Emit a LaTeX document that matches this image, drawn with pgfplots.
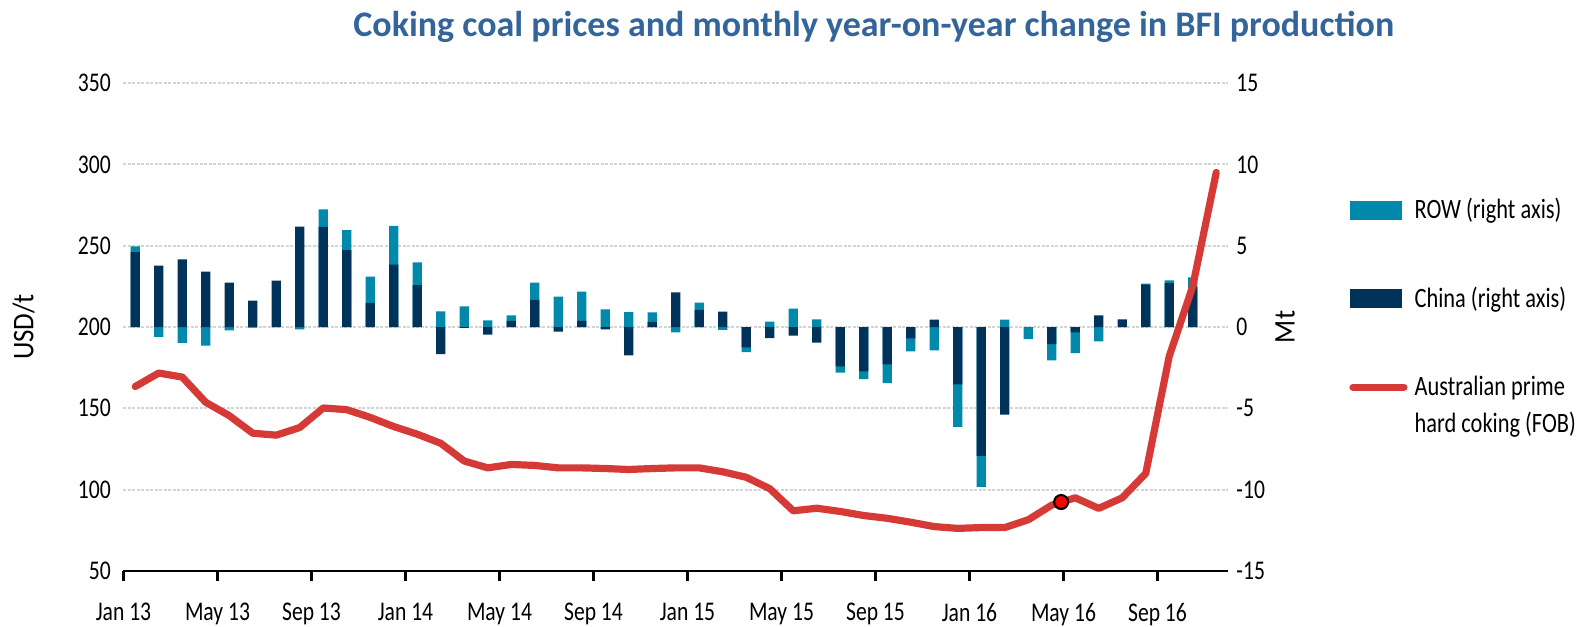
\documentclass[border=0pt]{standalone}
\usepackage{pgfplots}
\pgfplotsset{compat=1.18}
\usepackage{pgfplotstable}
\usepackage{fontspec}
\setmainfont{Carlito}
\newfontfamily\lblfont[FakeStretch=0.8]{Carlito}
\newfontfamily\legfont[FakeStretch=0.8]{Carlito}
\newfontfamily\axfont[FakeStretch=0.9]{Carlito}
\definecolor{rowc}{HTML}{0089AB}
\definecolor{chinac}{HTML}{003359}
\definecolor{linec}{HTML}{D63A37}
\definecolor{titlec}{HTML}{34659A}
\definecolor{gridc}{HTML}{D4D4D4}

\pgfplotstableread{
idx China ROW
0 4.61 0.35
1 3.77 -0.61
2 4.16 -0.98
3 3.40 -1.15
4 2.73 -0.20
5 1.62 -0.04
6 2.85 0.00
7 6.17 -0.14
8 6.15 1.08
9 4.73 1.23
10 1.48 1.62
11 3.83 2.38
12 2.58 1.40
13 -1.66 0.96
14 -0.06 1.27
15 -0.47 0.41
16 0.37 0.35
17 1.66 1.07
18 -0.29 1.86
19 0.37 1.80
20 -0.14 1.09
21 -1.74 0.92
22 0.31 0.59
23 2.13 -0.33
24 1.05 0.45
25 0.94 -0.18
26 -1.25 -0.29
27 -0.68 0.33
28 -0.53 1.13
29 -0.96 0.47
30 -2.42 -0.39
31 -2.73 -0.47
32 -2.30 -1.15
33 -0.70 -0.80
34 0.45 -1.43
35 -3.52 -2.62
36 -7.93 -1.90
37 -5.39 0.45
38 0.00 -0.74
39 -1.05 -1.00
40 -0.33 -1.27
41 0.72 -0.88
42 0.47 0.00
43 2.60 0.06
44 2.70 0.17
45 2.45 0.60
}\bars

\pgfplotstableread{
idx price
0 163.4
1 171.7
2 169.2
3 153.7
4 145.5
5 134.7
6 133.5
7 138.2
8 150.2
9 149.2
10 144.4
11 138.8
12 134.1
13 128.5
14 117.6
15 113.4
16 115.5
17 114.9
18 113.4
19 113.4
20 113.0
21 112.4
22 113.0
23 113.4
24 113.4
25 111.0
26 107.6
27 100.6
28 87.0
29 88.6
30 86.6
31 84.1
32 82.4
33 80.0
34 77.3
35 76.2
36 76.7
37 76.7
38 81.5
39 90.5
40 95.0
41 88.5
42 95.0
43 110.0
44 182.0
45 225.0
46 295.0
}\price

\begin{document}
\begin{tikzpicture}
\path[use as bounding box] (-61.75pt,-28pt) rectangle +(793.5pt,313.5pt);
\pgfplotsset{
  common/.style={at={(0pt,0pt)}, anchor=south west,
    scale only axis, width=552.25pt, height=244pt, xmin=-0.5, xmax=46.5,
    ticklabel style={font=\lblfont\fontsize{13.5}{15}\selectfont},
    /pgf/number format/assume math mode=true},
}
\begin{axis}[common, name=ax,
  ymin=-15, ymax=15,
  axis x line*=bottom, axis y line*=right,
  y axis line style={draw=none},
  x axis line style={-, line width=1.2pt},
  xtick={-0.5,3.5,...,43.5},
  xticklabels={Jan 13,May 13,Sep 13,Jan 14,May 14,Sep 14,Jan 15,May 15,Sep 15,Jan 16,May 16,Sep 16},
  xticklabel style={anchor=north, yshift=-7.5pt},
  tick align=outside, major tick length=5pt,
  xtick style={line width=1.2pt, black},
  ytick={-15,-10,-5,0,5,10,15},
  yticklabels={-15,-10,-5,0,5,10,15},
  ytick style={draw=none},
  yticklabel style={anchor=west, xshift=-4.3pt},
  ymajorgrids, grid style={gridc, line width=0.9pt, dash pattern=on 1.5pt off 0.75pt},
  ylabel={Mt},
  ylabel style={at={(axis description cs:1,0.5)}, anchor=center, yshift=-28.5pt, font=\axfont\fontsize{15}{18}\selectfont},
  title={Coking coal prices and monthly year-on-year change in BFI production},
  title style={at={(axis description cs:0.5,1)}, anchor=base, xshift=99pt, yshift=17.5pt, font=\bfseries\fontsize{18}{22}\selectfont, text=titlec},
]
\addplot[ybar, bar width=0.4, bar shift=0pt, fill=rowc, draw=none]
  table[x=idx, y expr={(\thisrow{China}*\thisrow{ROW}>0) ? (\thisrow{China}+\thisrow{ROW}) : \thisrow{ROW}}] {\bars};
\addplot[ybar, bar width=0.4, bar shift=0pt, fill=chinac, draw=none]
  table[x=idx, y=China] {\bars};
\end{axis}
\begin{axis}[common,
  ymin=50, ymax=350,
  axis x line=none, axis y line*=left,
  y axis line style={draw=none},
  ytick={50,100,...,350},
  ytick style={draw=none}, major tick length=0pt,
  yticklabel style={anchor=east, xshift=-2.8pt},
  ylabel={USD/t},
  ylabel style={at={(axis description cs:0,0.5)}, anchor=center, yshift=50pt, font=\axfont\fontsize{15}{18}\selectfont},
  legend style={at={(1,1)}, anchor=north west, xshift=60.5pt, yshift=-56.4pt, draw=none, fill=none,
    inner sep=0pt, font=\legfont\fontsize{14}{18.5}\selectfont, row sep=30.7pt, column sep=2.5pt,
    nodes={inner sep=1pt}},
  legend cell align=left,
]
\addplot[linec, line width=3.6pt, line join=round, line cap=round, forget plot] table[x=idx, y=price] {\price};
\addplot[only marks, mark=*, mark size=3.5pt, mark options={fill=red, draw=black, line width=1pt}, forget plot] coordinates {(39.4,92.4)};
\addlegendimage{legend image code/.code={\fill[rowc] (0pt,-4.5pt) rectangle (25.5pt,4.5pt);}}
\addlegendentry{ROW (right axis)}
\addlegendimage{legend image code/.code={\fill[chinac] (0pt,-4.5pt) rectangle (25.5pt,4.5pt);}}
\addlegendentry{China (right axis)}
\addlegendimage{legend image code/.code={\draw[linec, line width=3.6pt, line cap=round] (1.5pt,0pt) -- (27pt,0pt);}}
\addlegendentry{\parbox[t]{85pt}{Australian prime\\hard coking (FOB)}}
\end{axis}
\end{tikzpicture}
\end{document}
